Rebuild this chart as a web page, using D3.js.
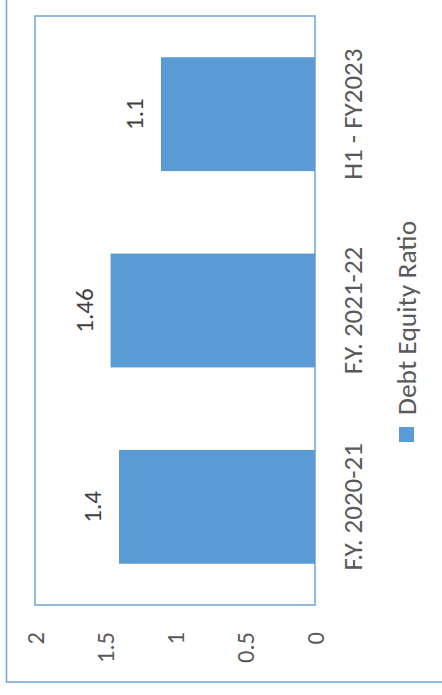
<!DOCTYPE html>
<html>
<head>
<meta charset="utf-8">
<script src="https://cdn.jsdelivr.net/npm/d3@7"></script>
<style>
  body { margin: 0; background: #fff; }
  svg text { font-family: Carlito, Calibri, "Liberation Sans", sans-serif; fill: #595959; }
</style>
</head>
<body>
<svg id="chart" width="442" height="695"></svg>
<script>
// Chart is drawn turned a quarter turn: values run right to left, categories top to bottom
const categories = ['H1 - FY2023', 'F.Y. 2021-22', 'F.Y. 2020-21'];
const debtEquity = [1.1, 1.46, 1.4];
const valueTicks = [0, 0.5, 1, 1.5, 2];
const seriesName = 'Debt Equity Ratio';

const barColor = '#5b9bd5';
const frameColor = '#6fa4d8';

const svg = d3.select('#chart');

// Outer chart frame (runs off the top and right of the picture)
svg.append('rect')
  .attr('x', 6.5).attr('y', -10)
  .attr('width', 460).attr('height', 692)
  .attr('fill', 'none')
  .attr('stroke', frameColor)
  .attr('stroke-width', 1.5);

const plot = { left: 35, right: 315, top: 16, bottom: 605 };

const x = d3.scaleLinear()
  .domain([0, 2])
  .range([plot.right, plot.left]);

const y = d3.scaleBand()
  .domain(categories)
  .range([plot.top, plot.bottom])
  .paddingInner(0.42)
  .paddingOuter(0.21);

// Plot area border
svg.append('rect')
  .attr('x', plot.left).attr('y', plot.top)
  .attr('width', plot.right - plot.left)
  .attr('height', plot.bottom - plot.top)
  .attr('fill', 'none')
  .attr('stroke', frameColor)
  .attr('stroke-width', 1.5);

const data = categories.map((c, i) => ({ cat: c, value: debtEquity[i] }));

svg.append('g').selectAll('rect')
  .data(data)
  .join('rect')
  .attr('x', d => x(d.value))
  .attr('y', d => y(d.cat))
  .attr('width', d => x(0) - x(d.value))
  .attr('height', y.bandwidth())
  .attr('fill', barColor);

// Value labels sit just past the end of each bar
svg.append('g').selectAll('text')
  .data(data)
  .join('text')
  .attr('transform', d => `translate(${x(d.value) - 26}, ${y(d.cat) + y.bandwidth() / 2}) rotate(-90)`)
  .attr('text-anchor', 'middle')
  .attr('dy', '0.33em')
  .style('font-size', '25px')
  .style('fill', '#404040')
  .text(d => d.value);

// Value axis (below the plot)
const xAxisEl = svg.append('g')
  .attr('transform', 'translate(0, 632)')
  .call(d3.axisBottom(x).tickValues(valueTicks).tickSize(0).tickFormat(d => String(d)));
xAxisEl.select('.domain').remove();
xAxisEl.selectAll('text')
  .attr('x', 0).attr('y', 0)
  .attr('dy', '0.33em')
  .attr('transform', 'rotate(-90)')
  .attr('text-anchor', 'end')
  .style('font-size', '24.5px')
  .attr('fill', '#595959');

// Category axis (right of the plot)
const yAxisEl = svg.append('g')
  .attr('transform', 'translate(353, 0)')
  .call(d3.axisRight(y).tickSize(0));
yAxisEl.select('.domain').remove();
yAxisEl.selectAll('text')
  .attr('x', 0).attr('y', 0)
  .attr('dy', '0.33em')
  .attr('transform', 'rotate(-90)')
  .attr('text-anchor', 'middle')
  .style('font-size', '27px')
  .attr('fill', '#595959');

// Legend
const legend = svg.append('g').attr('transform', 'translate(407, 442)');
legend.append('rect')
  .attr('x', -8).attr('y', -15)
  .attr('width', 15).attr('height', 15)
  .attr('fill', barColor);
legend.append('text')
  .attr('transform', 'translate(0, -27) rotate(-90)')
  .attr('dy', '0.33em')
  .style('font-size', '27.5px')
  .text(seriesName);
</script>
</body>
</html>
